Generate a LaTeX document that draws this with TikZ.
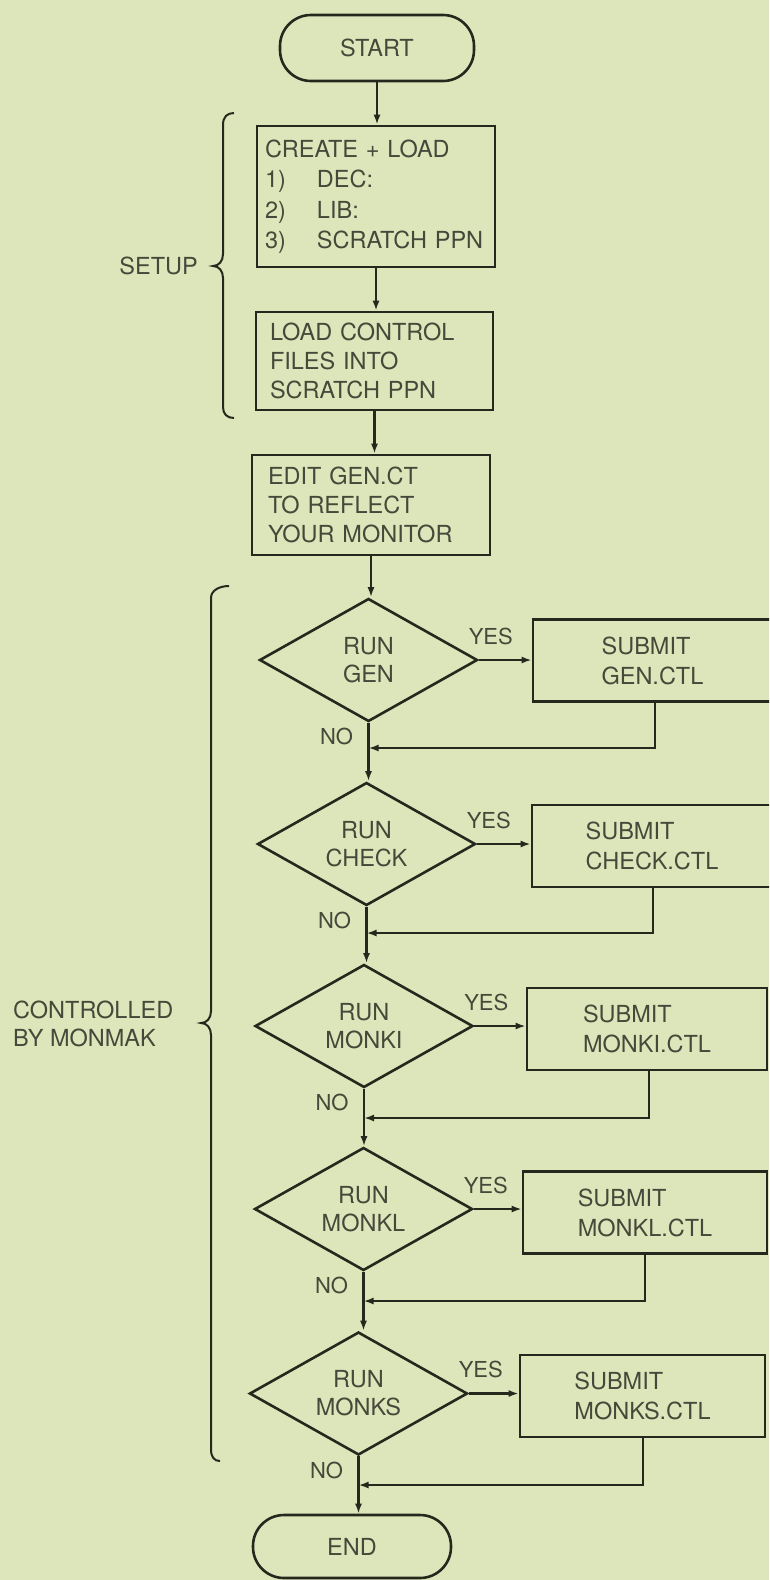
\documentclass[tikz,border=0pt]{standalone}
\usepackage{fontspec}
\setmainfont{TeX Gyre Heros}
\usetikzlibrary{shapes.geometric,arrows.meta}
\definecolor{paper}{RGB}{221,230,186}
\definecolor{ink}{RGB}{38,40,30}
\definecolor{txt}{RGB}{70,72,58}
\newcommand\boxfont{\fontsize{23.5}{29}\selectfont}
\newcommand\tagfont{\fontsize{22}{26}\selectfont}

\begin{document}
\begin{tikzpicture}[x=1pt,y=-1pt,
  outline/.style={draw=ink,line width=2.6pt,text=txt,font=\boxfont},
  term/.style={outline,rectangle,rounded corners=31pt,inner sep=0pt},
  proc/.style={outline,rectangle,align=left,inner ysep=0pt},
  decision/.style={outline,diamond,aspect=1.77,minimum width=218pt,
    minimum height=123pt,inner sep=0pt,align=center,
    font=\fontsize{23.5}{28}\selectfont},
  job/.style={outline,rectangle,align=left,minimum height=82pt,inner sep=0pt,
    font=\fontsize{23.5}{30}\selectfont},
  flow/.style={draw=ink,line width=2.2pt,-{Latex[length=10pt,width=7pt]}},
  brace/.style={draw=ink,line width=2pt},
  tag/.style={text=txt,font=\tagfont,inner sep=0pt},
  side/.style={text=txt,inner sep=0pt,align=left,font=\fontsize{23.5}{28}\selectfont},
]
\path[use as bounding box,fill=paper] (0,0) rectangle (769,1580);
\clip (0,0) rectangle (769,1580);

% setup steps
\node[term,minimum width=194pt,minimum height=66pt] (start) at (377,48) {START};
\node[proc,text width=222pt,inner xsep=8pt,minimum height=141pt,
  font=\fontsize{23.5}{30.5}\selectfont] (create) at (376,196.5)
  {CREATE + LOAD\\\makebox[52pt][l]{1)}DEC:\\\makebox[52pt][l]{2)}LIB:\\\makebox[52pt][l]{3)}SCRATCH PPN};
\node[proc,text width=209pt,inner xsep=14pt,minimum height=98pt] (loadctl) at (374.5,361)
  {LOAD CONTROL\\FILES INTO\\SCRATCH PPN};
\node[proc,text width=206pt,inner xsep=16pt,minimum height=100pt] (edit) at (371,505)
  {EDIT GEN.CT\\TO REFLECT\\YOUR MONITOR};

% decisions
\node[decision] (d1) at (368.5,660) {RUN\\GEN};
\node[decision] (d2) at (366.5,844) {RUN\\CHECK};
\node[decision] (d3) at (364,1026) {RUN\\MONKI};
\node[decision] (d4) at (363.5,1209) {RUN\\MONKL};
\node[decision] (d5) at (358.5,1393.5) {RUN\\MONKS};

% batch jobs
\node[job,minimum width=239pt] (s1) at (652.5,660.5) {SUBMIT\\GEN.CTL};
\node[job,minimum width=240pt] (s2) at (652,846) {SUBMIT\\CHECK.CTL};
\node[job,minimum width=240pt] (s3) at (647,1029) {SUBMIT\\MONKI.CTL};
\node[job,minimum width=244pt] (s4) at (645,1212.5) {SUBMIT\\MONKL.CTL};
\node[job,minimum width=245pt] (s5) at (642.5,1396) {SUBMIT\\MONKS.CTL};

\node[term,minimum width=198pt,minimum height=63pt] (stop) at (352,1546.5) {END};

% main flow
\draw[flow] (start.south) -- (start.south |- create.north);
\draw[flow] (create.south) -- (create.south |- loadctl.north);
\draw[flow] (loadctl.south) -- (loadctl.south |- edit.north);
\draw[flow] (edit.south) -- (edit.south |- d1.north);
\draw[flow] (d1.south) -- (d1.south |- d2.north);
\draw[flow] (d2.south) -- (d2.south |- d3.north);
\draw[flow] (d3.south) -- (d3.south |- d4.north);
\draw[flow] (d4.south) -- (d4.south |- d5.north);
\draw[flow] (d5.south) -- (d5.south |- stop.north);

% yes branches
\foreach \i in {1,...,5}{
  \draw[flow] (d\i.east) -- (d\i.east -| s\i.west);
  \node[tag] (yes\i) at ([shift={(12,-24)}]d\i.east) {YES};
  \node[tag] (no\i) at ([shift={(-32,14)}]d\i.south) {NO};
}

% returns from the jobs
\coordinate (j1) at (655,748);
\coordinate (j2) at (653,933);
\coordinate (j3) at (649,1118);
\coordinate (j4) at (645,1301);
\coordinate (j5) at (643,1485);
\foreach \i in {1,...,5}{
  \draw[flow] (j\i |- s\i.south) -- (j\i) -- (j\i -| d\i.south);
}

% braces and their captions
\draw[brace] (234,113) .. controls (227,113) and (223,117) .. (223,125)
  -- (223,254) .. controls (223,261) and (219,266) .. (213,266)
  .. controls (219,266) and (223,271) .. (223,278)
  -- (223,407) .. controls (223,414) and (227,418) .. (234,418);
\node[side,anchor=east] (setup) at (198,266) {SETUP};

\draw[brace] (229,586) .. controls (220,586) and (211,590) .. (211,598)
  -- (211,1011) .. controls (211,1018) and (207,1023) .. (201,1023)
  .. controls (207,1023) and (211,1028) .. (211,1035)
  -- (211,1449) .. controls (211,1457) and (214,1461) .. (220,1461);
\node[side,anchor=west] (ctrl) at (13,1024) {CONTROLLED\\BY MONMAK};
\end{tikzpicture}
\end{document}
